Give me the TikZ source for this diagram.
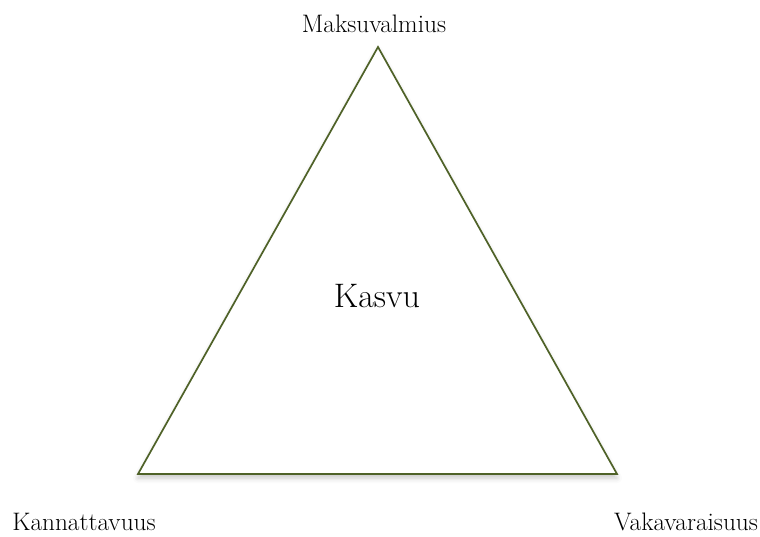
\documentclass[tikz,border=0pt]{standalone}
\usepackage{xcolor}
\usepackage{tikz}
\usetikzlibrary{shadows.blur, positioning, calc}

\definecolor{olive}{HTML}{4F6228}

\begin{document}
\begin{tikzpicture}[
  x=1pt, y=-1pt,
  tri/.style={draw=olive, line width=1.7pt, fill=white, line join=miter,
              blur shadow={shadow xshift=0pt, shadow yshift=-4pt,
                           shadow blur radius=5pt, shadow opacity=22}},
  corner/.style={font=\fontsize{25.3}{25}\selectfont, anchor=base, inner sep=0pt},
  middle/.style={font=\fontsize{34}{34}\selectfont, anchor=base, inner sep=0pt}
]
  \useasboundingbox (0,0) rectangle (760,536);

  \coordinate (top)   at (378,47);
  \coordinate (left)  at (138,474);
  \coordinate (right) at (617,474);

  % the triangle
  \path[tri] (top) -- (right) -- (left) -- cycle;

  \node[corner] (maksu) at (374,32)  {Maksuvalmius};
  \node[corner] (kanna) at (84,530)  {Kannattavuus};
  \node[corner] (vaka)  at (686,530) {Vakavaraisuus};
  \node[middle] (kasvu) at (377,307) {Kasvu};
\end{tikzpicture}
\end{document}
